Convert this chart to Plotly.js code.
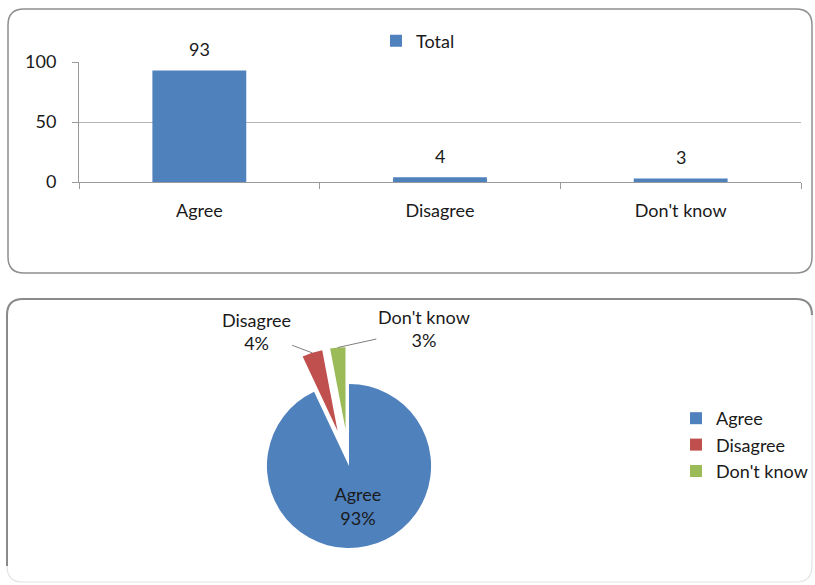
<!DOCTYPE html>
<html><head><meta charset="utf-8">
<script src="https://cdn.plot.ly/plotly-3.0.1.min.js"></script>
<style>html,body{margin:0;padding:0;background:#fff;overflow:hidden}#chart{width:815px;height:585px}</style>
</head><body><div id="chart"></div>
<script>
// ---- data ----
const categories = ['Agree', 'Disagree', "Don't know"];
const totals = [93, 4, 3];
const seriesName = 'Total';
const pieLabels = ['Agree', 'Disagree', "Don't know"];
const pieValues = [93, 4, 3];
const yTickVals = [0, 50, 100];

// ---- style ----
const W = 815, H = 585;
const FONT = 'Lato, "Open Sans", sans-serif';
const FS = 18;
const TXT = '#1a1a1a';
const GRID = '#b5b5b5';
const AXIS = '#9a9a9a';
const colors = ['#4F81BD', '#C0504D', '#9BBB59'];
const px = x => x / W, py = y => (H - y) / H;

function roundRect(x0, y0, x1, y1, r) {
  const X = px, Y = py;
  return `M${X(x0 + r)},${Y(y0)} L${X(x1 - r)},${Y(y0)} Q${X(x1)},${Y(y0)} ${X(x1)},${Y(y0 + r)} ` +
    `L${X(x1)},${Y(y1 - r)} Q${X(x1)},${Y(y1)} ${X(x1 - r)},${Y(y1)} L${X(x0 + r)},${Y(y1)} ` +
    `Q${X(x0)},${Y(y1)} ${X(x0)},${Y(y1 - r)} L${X(x0)},${Y(y0 + r)} Q${X(x0)},${Y(y0)} ${X(x0 + r)},${Y(y0)} Z`;
}
function topLeftEdge(x0, y0, x1, y1, r) {
  const X = px, Y = py;
  return `M${X(x0)},${Y(y1 - r)} L${X(x0)},${Y(y0 + r)} Q${X(x0)},${Y(y0)} ${X(x0 + r)},${Y(y0)} ` +
    `L${X(x1 - r)},${Y(y0)} Q${X(x1)},${Y(y0)} ${X(x1)},${Y(y0 + r)}`;
}

// pie geometry (layout)
const pieCx = 349, pieHalf = 119, pull = 0.45;
const pieDomX = [px(pieCx - pieHalf), px(pieCx + pieHalf)];
const pieDomY = [0, py(H - 2 * pieHalf)];
const pieCy = H - pieHalf;
const pieR = pieHalf / (1 + pull);

const total = pieValues.reduce((a, b) => a + b, 0);
let acc = 0;
const mids = pieValues.map(v => { const m = (acc + v / 2) / total * 360; acc += v; return m; });
const labelOffsets = [null, [-56, -21], [86, -19]];

const annotations = [];
// bar value labels
categories.forEach((c, i) => {
  annotations.push({
    x: c, y: totals[i], xref: 'x', yref: 'y', text: String(totals[i]),
    showarrow: false, yanchor: 'middle', yshift: 21,
    font: { family: FONT, size: FS, color: TXT }
  });
});
// pie outside labels with leader lines
pieValues.forEach((v, i) => {
  if (!labelOffsets[i]) return;
  const a = mids[i] * Math.PI / 180;
  const R = pieR * (1 + pull);
  const xPt = pieCx + R * Math.sin(a), yPt = pieCy - R * Math.cos(a);
  annotations.push({
    x: px(xPt), y: py(yPt), xref: 'paper', yref: 'paper',
    text: `${pieLabels[i]}<br>${Math.round(v / total * 100)}%`,
    showarrow: true, arrowhead: 0, arrowwidth: 1, arrowcolor: '#7f7f7f', standoff: 0,
    ax: labelOffsets[i][0], ay: labelOffsets[i][1],
    font: { family: FONT, size: FS, color: TXT }
  });
});

const barTrace = {
  type: 'bar', x: categories, y: totals, name: seriesName, showlegend: true,
  marker: { color: colors[0] }, hoverinfo: 'none', legend: 'legend'
};
const pieTrace = {
  type: 'pie', labels: pieLabels, values: pieValues, sort: false, direction: 'clockwise', rotation: 0,
  pull: [0, pull, pull], marker: { colors: colors, line: { width: 0 } },
  texttemplate: '%{label}<br>%{percent:.0%}', textposition: ['inside', 'none', 'none'],
  insidetextorientation: 'horizontal', insidetextfont: { family: FONT, size: FS, color: TXT },
  domain: { x: pieDomX, y: pieDomY }, hoverinfo: 'none', legend: 'legend2', showlegend: true
};

const layout = {
  width: W, height: H, margin: { l: 0, r: 0, t: 0, b: 0 },
  paper_bgcolor: '#ffffff', plot_bgcolor: '#ffffff',
  font: { family: FONT, size: FS, color: TXT },
  showlegend: true,
  bargap: 0.61,
  xaxis: {
    domain: [px(79), px(801)], type: 'category', tickson: 'boundaries', ticks: 'outside', ticklen: 6,
    tickcolor: AXIS, showline: true, linecolor: AXIS, linewidth: 1, showgrid: false, zeroline: false,
    tickfont: { family: FONT, size: FS, color: TXT }, ticklabelstandoff: 12, fixedrange: true
  },
  yaxis: {
    domain: [py(182), py(62)], range: [0, 100], tickvals: yTickVals, ticks: 'outside', ticklen: 6,
    tickcolor: AXIS, showline: true, linecolor: AXIS, gridcolor: GRID, zeroline: false,
    tickfont: { family: FONT, size: FS, color: TXT }, ticklabelstandoff: 12, fixedrange: true
  },
  legend: { visible: true, x: px(376), y: py(41), xanchor: 'left', yanchor: 'middle', bgcolor: 'rgba(0,0,0,0)',
    font: { family: FONT, size: FS, color: TXT } },
  legend2: { visible: true, x: px(676), y: py(445), xanchor: 'left', yanchor: 'middle', bgcolor: 'rgba(0,0,0,0)',
    font: { family: FONT, size: FS, color: TXT } },
  shapes: [
    { type: 'path', xref: 'paper', yref: 'paper', path: roundRect(8, 9, 812, 273, 16), line: { color: '#8f8f8f', width: 1.5 }, layer: 'below' },
    { type: 'path', xref: 'paper', yref: 'paper', path: roundRect(7, 299, 812, 582, 16), line: { color: '#e3e3e3', width: 1.2 }, layer: 'below' },
    { type: 'path', xref: 'paper', yref: 'paper', path: topLeftEdge(7, 299, 812, 582, 16), line: { color: '#8a8a8a', width: 2 }, layer: 'below' }
  ],
  annotations: annotations
};

Plotly.newPlot('chart', [barTrace, pieTrace], layout, { staticPlot: true, displayModeBar: false });
</script></body></html>
